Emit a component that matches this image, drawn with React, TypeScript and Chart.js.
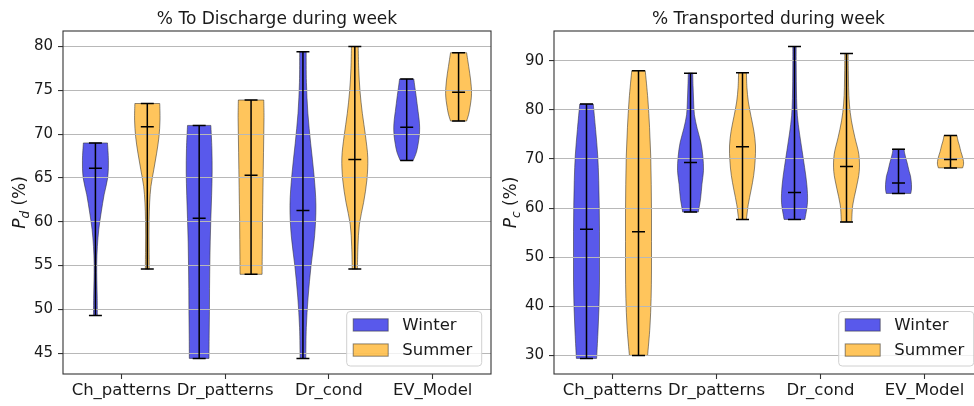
import React, { useEffect, useRef } from 'react';
import { Chart, registerables } from 'chart.js';
Chart.register(...registerables);

// ---------- data ----------
const categories = ['Ch_patterns', 'Dr_patterns', 'Dr_cond', 'EV_Model'];
const seasons = ['Winter', 'Summer'];

// % To Discharge during week (P_d)
const pdWinterMin = [49.3, 44.4, 44.4, 67.0];
const pdWinterMax = [69.0, 71.0, 79.4, 76.3];
const pdWinterMedian = [66.1, 60.4, 61.3, 70.8];
// relative violin width at 11 evenly spaced levels from min to max
const pdWinterDensity = [
  [0.15, 0.14, 0.11, 0.1, 0.15, 0.26, 0.45, 0.67, 0.95, 1.0, 0.93],
  [0.76, 0.77, 0.79, 0.8, 0.82, 0.85, 0.9, 0.96, 1.0, 0.98, 0.9],
  [0.22, 0.26, 0.4, 0.62, 0.9, 1.0, 0.85, 0.6, 0.38, 0.27, 0.25],
  [0.5, 0.75, 0.88, 0.97, 1.0, 0.96, 0.88, 0.8, 0.72, 0.63, 0.55],
];
const pdSummerMin = [54.6, 54.0, 54.6, 71.5];
const pdSummerMax = [73.5, 73.9, 80.0, 79.3];
const pdSummerMedian = [70.85, 65.3, 67.1, 74.8];
const pdSummerDensity = [
  [0.15, 0.14, 0.13, 0.14, 0.18, 0.28, 0.5, 0.72, 0.9, 0.98, 0.96],
  [0.85, 0.86, 0.87, 0.88, 0.9, 0.92, 0.94, 0.96, 0.98, 1.0, 0.98],
  [0.2, 0.24, 0.35, 0.68, 0.93, 1.0, 0.82, 0.58, 0.4, 0.3, 0.26],
  [0.62, 0.78, 0.88, 0.96, 1.0, 0.98, 0.93, 0.86, 0.78, 0.7, 0.62],
];
const pdTicks = [45, 50, 55, 60, 65, 70, 75, 80];

// % Transported during week (P_c)
const pcWinterMin = [29.4, 59.2, 57.7, 63.0];
const pcWinterMax = [81.2, 87.5, 92.9, 72.0];
const pcWinterMedian = [55.7, 69.3, 63.2, 65.1];
const pcWinterDensity = [
  [0.78, 0.88, 0.96, 1.0, 1.0, 1.0, 0.98, 0.94, 0.86, 0.7, 0.52],
  [0.6, 0.78, 0.88, 1.0, 0.95, 0.8, 0.52, 0.3, 0.24, 0.2, 0.17],
  [0.8, 1.0, 0.95, 0.78, 0.58, 0.38, 0.22, 0.16, 0.14, 0.13, 0.13],
  [0.95, 1.0, 1.0, 0.97, 0.92, 0.82, 0.74, 0.66, 0.56, 0.48, 0.42],
];
const pcSummerMin = [30.0, 57.7, 57.2, 68.2];
const pcSummerMax = [88.0, 87.6, 91.5, 74.8];
const pcSummerMedian = [55.2, 72.5, 68.5, 69.9];
const pcSummerDensity = [
  [0.7, 0.88, 0.97, 1.0, 1.0, 1.0, 0.98, 0.94, 0.85, 0.72, 0.52],
  [0.3, 0.44, 0.66, 0.86, 0.97, 1.0, 0.88, 0.66, 0.45, 0.34, 0.3],
  [0.4, 0.48, 0.75, 0.98, 0.95, 0.65, 0.38, 0.22, 0.16, 0.14, 0.13],
  [0.93, 1.0, 1.0, 0.95, 0.88, 0.8, 0.74, 0.68, 0.6, 0.54, 0.5],
];
const pcTicks = [30, 40, 50, 60, 70, 80, 90];

// ---------- style ----------
const FONT = '"DejaVu Sans", "Liberation Sans", sans-serif';
const TEXT = '#1a1a1a';
const FILLS = ['rgba(0,0,225,0.65)', 'rgba(255,165,0,0.64)'];
const EDGE = 'rgba(45,45,45,0.55)';
const OFFSETS = [-0.25, 0.25];
const BODY_HALF = 0.125;
const LINE_HALF = 0.0625;
const X_MIN = 0.4375;
const X_MAX = 4.5625;

type Season = { min: number[]; max: number[]; med: number[]; dens: number[][] };

type PanelProps = {
  left: number;
  width: number;
  plotLeft: number;
  plotRight: number;
  yMin: number;
  yMax: number;
  yTicks: number[];
  title: string;
  sub: string;
  data: Season[];
};

function smoothSide(ctx: CanvasRenderingContext2D, pts: number[][]) {
  for (let i = 0; i < pts.length - 1; i++) {
    const p0 = pts[i - 1] || pts[i];
    const p1 = pts[i];
    const p2 = pts[i + 1];
    const p3 = pts[i + 2] || pts[i + 1];
    ctx.bezierCurveTo(
      p1[0] + (p2[0] - p0[0]) / 6,
      p1[1] + (p2[1] - p0[1]) / 6,
      p2[0] - (p3[0] - p1[0]) / 6,
      p2[1] - (p3[1] - p1[1]) / 6,
      p2[0],
      p2[1]
    );
  }
}

function statsPoints(s: Season, offset: number) {
  const pts: { x: number; y: number | null }[] = [];
  categories.forEach((_, i) => {
    const c = i + 1 + offset;
    pts.push(
      { x: c - LINE_HALF, y: s.min[i] }, { x: c + LINE_HALF, y: s.min[i] }, { x: c, y: null },
      { x: c - LINE_HALF, y: s.max[i] }, { x: c + LINE_HALF, y: s.max[i] }, { x: c, y: null },
      { x: c - LINE_HALF, y: s.med[i] }, { x: c + LINE_HALF, y: s.med[i] }, { x: c, y: null },
      { x: c, y: s.min[i] }, { x: c, y: s.max[i] }, { x: c, y: null }
    );
  });
  return pts;
}

function ViolinPanel(p: PanelProps) {
  const ref = useRef<HTMLCanvasElement>(null);
  useEffect(() => {
    const canvas = ref.current!;
    const yAxisW = p.plotLeft - p.left;
    const padRight = p.left + p.width - p.plotRight;

    const decor = {
      id: 'violinDecor',
      beforeDraw(chart: any) {
        const ctx: CanvasRenderingContext2D = chart.ctx;
        const xs = chart.scales.x;
        const ys = chart.scales.y;
        p.data.forEach((s, si) => {
          categories.forEach((_, i) => {
            const c = i + 1 + OFFSETS[si];
            const d = s.dens[i];
            const n = d.length;
            const right: number[][] = [];
            const left: number[][] = [];
            for (let k = 0; k < n; k++) {
              const v = s.min[i] + ((s.max[i] - s.min[i]) * k) / (n - 1);
              const py = ys.getPixelForValue(v);
              right.push([xs.getPixelForValue(c + BODY_HALF * d[k]), py]);
              left.push([xs.getPixelForValue(c - BODY_HALF * d[k]), py]);
            }
            left.reverse();
            ctx.save();
            ctx.beginPath();
            ctx.moveTo(left[n - 1][0], left[n - 1][1]);
            ctx.lineTo(right[0][0], right[0][1]);
            smoothSide(ctx, right);
            ctx.lineTo(left[0][0], left[0][1]);
            smoothSide(ctx, left);
            ctx.closePath();
            ctx.fillStyle = FILLS[si];
            ctx.fill();
            ctx.lineWidth = 1;
            ctx.strokeStyle = EDGE;
            ctx.stroke();
            ctx.restore();
          });
        });
      },
      afterDraw(chart: any) {
        const ctx: CanvasRenderingContext2D = chart.ctx;
        const ca = chart.chartArea;
        ctx.save();
        // frame
        ctx.strokeStyle = '#333';
        ctx.lineWidth = 1.1;
        ctx.strokeRect(ca.left, ca.top, ca.right - ca.left, ca.bottom - ca.top);
        // title
        ctx.fillStyle = TEXT;
        ctx.font = `17px ${FONT}`;
        ctx.textAlign = 'center';
        ctx.textBaseline = 'alphabetic';
        ctx.fillText(p.title, (ca.left + ca.right) / 2, 24);
        // y label
        ctx.save();
        ctx.translate(ca.left - 38, (ca.top + ca.bottom) / 2);
        ctx.rotate(-Math.PI / 2);
        ctx.textAlign = 'left';
        const fMain = `italic 17px ${FONT}`;
        const fSub = `italic 12px ${FONT}`;
        const fRest = `17px ${FONT}`;
        ctx.font = fMain;
        const wP = ctx.measureText('P').width;
        ctx.font = fSub;
        const wS = ctx.measureText(p.sub).width;
        ctx.font = fRest;
        const rest = ' (%)';
        const wR = ctx.measureText(rest).width;
        let u = -(wP + wS + wR) / 2;
        ctx.font = fMain;
        ctx.fillText('P', u, 0);
        u += wP;
        ctx.font = fSub;
        ctx.fillText(p.sub, u, 3.5);
        u += wS;
        ctx.font = fRest;
        ctx.fillText(rest, u, 0);
        ctx.restore();
        // legend
        const boxW = 135;
        const boxH = 54.5;
        const bx = ca.right - 9.3 - boxW;
        const by = ca.bottom - 8 - boxH;
        ctx.beginPath();
        ctx.roundRect(bx, by, boxW, boxH, 3.5);
        ctx.fillStyle = 'rgba(255,255,255,0.8)';
        ctx.fill();
        ctx.strokeStyle = '#d0d0d0';
        ctx.lineWidth = 1;
        ctx.stroke();
        seasons.forEach((name, si) => {
          const top = by + 7.3 + si * 25.1;
          ctx.fillStyle = FILLS[si];
          ctx.fillRect(bx + 6.5, top, 35, 12.3);
          ctx.strokeStyle = EDGE;
          ctx.strokeRect(bx + 6.5, top, 35, 12.3);
          ctx.fillStyle = TEXT;
          ctx.font = `16.5px ${FONT}`;
          ctx.textAlign = 'left';
          ctx.textBaseline = 'middle';
          ctx.fillText(name, bx + 55.5, top + 6.5);
        });
        ctx.restore();
      },
    };

    const chart = new Chart(canvas, {
      type: 'line',
      data: {
        datasets: p.data.map((s, si) => ({
          label: seasons[si],
          data: statsPoints(s, OFFSETS[si]) as any,
          borderColor: '#000',
          borderWidth: 1.5,
          pointRadius: 0,
          fill: false,
          tension: 0,
          spanGaps: false,
        })),
      },
      options: {
        responsive: false,
        animation: false,
        devicePixelRatio: 1,
        events: [],
        layout: { padding: { top: 31, left: 0, right: padRight, bottom: 0 } },
        plugins: { legend: { display: false }, title: { display: false }, tooltip: { enabled: false } },
        scales: {
          x: {
            type: 'linear',
            min: X_MIN,
            max: X_MAX,
            afterFit: (s: any) => {
              s.height = 32;
            },
            afterBuildTicks: (s: any) => {
              s.ticks = categories.map((_, i) => ({ value: i + 1 }));
            },
            grid: { drawOnChartArea: false, drawTicks: true, tickLength: 5, tickColor: '#333', tickWidth: 1.1 },
            border: { display: false },
            ticks: {
              autoSkip: false,
              maxRotation: 0,
              padding: 2,
              color: TEXT,
              font: { family: FONT, size: 16.5 },
              callback: (v: any) => categories[Math.round(Number(v)) - 1] ?? '',
            },
          },
          y: {
            type: 'linear',
            min: p.yMin,
            max: p.yMax,
            afterFit: (s: any) => {
              s.width = yAxisW;
            },
            afterBuildTicks: (s: any) => {
              s.ticks = p.yTicks.map((v) => ({ value: v }));
            },
            grid: { color: '#b8b8b8', lineWidth: 1.1, drawTicks: true, tickLength: 5, tickColor: '#333', tickWidth: 1.1 },
            border: { display: false },
            ticks: { padding: 5, color: TEXT, font: { family: FONT, size: 15 } },
          },
        },
      },
      plugins: [decor],
    } as any);
    return () => chart.destroy();
  }, []);
  return (
    <canvas
      ref={ref}
      width={p.width}
      height={406}
      style={{ position: 'absolute', left: p.left, top: 0, width: p.width, height: 406 }}
    />
  );
}

export default function App() {
  const pd: Season[] = [
    { min: pdWinterMin, max: pdWinterMax, med: pdWinterMedian, dens: pdWinterDensity },
    { min: pdSummerMin, max: pdSummerMax, med: pdSummerMedian, dens: pdSummerDensity },
  ];
  const pc: Season[] = [
    { min: pcWinterMin, max: pcWinterMax, med: pcWinterMedian, dens: pcWinterDensity },
    { min: pcSummerMin, max: pcSummerMax, med: pcSummerMedian, dens: pcSummerDensity },
  ];
  return (
    <div
      style={{ position: 'absolute', left: 0, top: 0, width: 974, height: 406, overflow: 'hidden', background: '#fff' }}
    >
      <ViolinPanel
        left={0}
        width={492}
        plotLeft={63}
        plotRight={491}
        yMin={42.62}
        yMax={81.78}
        yTicks={pdTicks}
        title="% To Discharge during week"
        sub="d"
        data={pd}
      />
      <ViolinPanel
        left={492}
        width={500}
        plotLeft={554}
        plotRight={983}
        yMin={26.22}
        yMax={96.08}
        yTicks={pcTicks}
        title="% Transported during week"
        sub="c"
        data={pc}
      />
    </div>
  );
}
